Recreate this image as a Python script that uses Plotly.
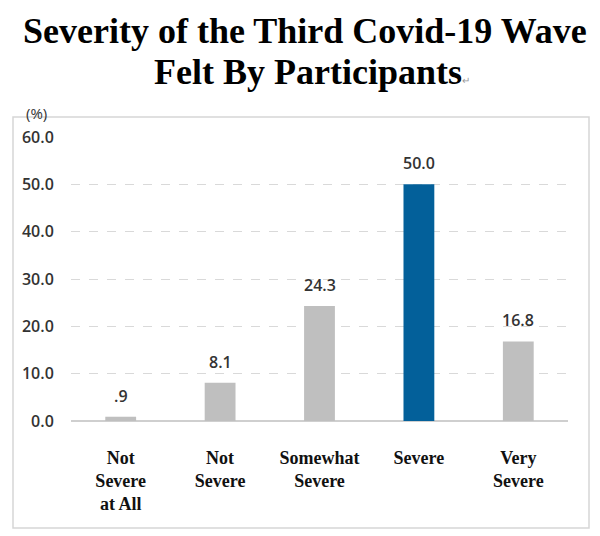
import plotly.graph_objects as go

categories = ["Not Severe at All", "Not Severe", "Somewhat Severe", "Severe", "Very Severe"]
tick_labels = ["Not<br>Severe<br>at All", "Not<br>Severe", "Somewhat<br>Severe", "Severe", "Very<br>Severe"]
values = [0.9, 8.1, 24.3, 50.0, 16.8]
highlight = "Severe"

GRAY = "#BFBFBF"
BLUE = "#03609A"
colors = [BLUE if c == highlight else GRAY for c in categories]


def fmt(v):
    s = f"{v:.1f}"
    return s[1:] if s.startswith("0.") else s


W, H = 600, 536
OFF = 8  # page offset observed in the rendering
# target plot area in window pixels
X0, X1, Y0, Y1 = 71, 568, 137, 421
L, T = X0 - OFF, Y0 - OFF
R, B = W - X1 + OFF, H - Y1 + OFF
pw, ph = X1 - X0, Y1 - Y0


def px(x):
    return (x - X0) / pw


def py(y):
    return 1 - (y - Y0) / ph


fig = go.Figure()
fig.add_trace(go.Bar(
    x=categories, y=values, marker=dict(color=colors, line=dict(width=0)),
    width=0.31, hoverinfo="skip",
))

for c, v in zip(categories, values):
    fig.add_annotation(
        x=c, y=v, text=fmt(v), showarrow=False, yanchor="bottom", yshift=8,
        font=dict(family="Open Sans", size=16, color="#333333", weight=600),
    )

# frame
fig.add_shape(type="rect", xref="paper", yref="paper",
              x0=px(13), x1=px(589), y0=py(528), y1=py(117),
              line=dict(color="#D6D6D6", width=1.5), layer="below")

fig.add_annotation(text="(%)", xref="paper", yref="paper", x=px(36), y=py(113),
                   showarrow=False, xanchor="center", yanchor="middle",
                   font=dict(family="Open Sans", size=15, color="#333333"))

fig.add_annotation(text="<b>Severity of the Third Covid-19 Wave</b>", xref="paper", yref="paper",
                   x=px(305), y=py(31), showarrow=False, xanchor="center", yanchor="middle",
                   font=dict(family="Liberation Serif", size=36, color="#000000"))
fig.add_annotation(text="<b>Felt By Participants</b><span style='font-size:10px;color:#999999'>↵</span>",
                   xref="paper", yref="paper",
                   x=px(312), y=py(72), showarrow=False, xanchor="center", yanchor="middle",
                   font=dict(family="Liberation Serif", size=36, color="#000000"))

fig.update_layout(
    width=W, height=H, margin=dict(l=L, r=R, t=T, b=B),
    paper_bgcolor="white", plot_bgcolor="white", showlegend=False,
    xaxis=dict(
        tickmode="array", tickvals=categories, ticktext=[f"<b>{t}</b>" for t in tick_labels],
        tickfont=dict(family="Liberation Serif", size=18, color="#111111"),
        showgrid=False, showline=False, ticks="outside", ticklen=20, tickcolor="rgba(0,0,0,0)",
        fixedrange=True,
    ),
    yaxis=dict(
        range=[0, 60], tickvals=[0, 10, 20, 30, 40, 50, 60],
        ticktext=[f"{v:.1f}" for v in [0, 10, 20, 30, 40, 50, 60]],
        tickfont=dict(family="Open Sans", size=16, color="#333333", weight=600),
        showgrid=True, gridcolor="#D9D9D9", griddash="dash", gridwidth=1,
        zeroline=True, zerolinecolor="#CFCFCF", zerolinewidth=1.5,
        showline=False, ticks="outside", ticklen=13, tickcolor="rgba(0,0,0,0)",
        fixedrange=True,
    ),
)

fig.write_html("out.html")
